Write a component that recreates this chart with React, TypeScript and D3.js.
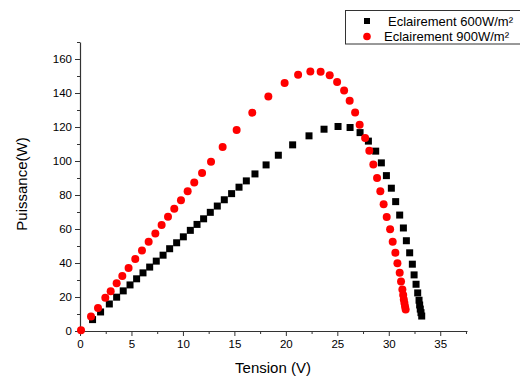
import React, { useRef, useEffect } from 'react';
import * as d3 from 'd3';

// Eclairement 600 W/m² (tension V, puissance W)
const v600 = [1.22, 2.0, 2.85, 3.56, 4.2, 4.86, 5.5, 6.12, 6.77, 7.41, 8.07, 8.71, 9.39, 10.04, 10.72, 11.37, 12.01, 12.66, 13.34, 14.02, 14.73, 15.45, 16.16, 17.0, 18.08, 19.27, 20.66, 22.25, 23.71, 25.07, 26.24, 27.21, 28.02, 28.73, 29.28, 29.77, 30.25, 30.67, 31.06, 31.42, 31.71, 32.03, 32.29, 32.46, 32.65, 32.81, 32.94, 33.0, 33.06, 33.13, 33.2];
const p600 = [6.7, 11.2, 15.9, 19.9, 23.6, 27.1, 30.7, 34.2, 37.6, 41.1, 44.6, 48.4, 51.9, 55.4, 59.2, 62.7, 66.0, 69.8, 73.5, 77.2, 80.8, 84.6, 88.3, 92.4, 97.7, 103.4, 109.5, 114.8, 118.7, 120.3, 119.7, 116.7, 111.7, 105.8, 98.9, 91.4, 84.0, 76.1, 68.2, 60.6, 53.1, 46.0, 39.3, 33.0, 27.5, 22.4, 18.1, 15.3, 12.9, 10.8, 8.8];

// Eclairement 900 W/m²
const v900 = [0.1, 1.07, 1.75, 2.46, 2.98, 3.56, 4.11, 4.72, 5.37, 6.02, 6.67, 7.32, 7.93, 8.55, 9.16, 9.81, 10.46, 11.1, 11.86, 12.73, 13.86, 15.22, 16.74, 18.3, 19.88, 21.19, 22.38, 23.38, 24.26, 24.98, 25.66, 26.2, 26.73, 27.17, 27.7, 28.11, 28.5, 28.86, 29.18, 29.5, 29.8, 30.13, 30.38, 30.64, 30.84, 31.06, 31.19, 31.32, 31.4, 31.46, 31.52, 31.58, 31.64];
const p900 = [0.4, 8.5, 13.6, 19.5, 23.4, 28.1, 32.4, 37.1, 42.3, 47.4, 52.5, 57.4, 62.3, 67.2, 71.9, 76.9, 82.2, 87.3, 93.0, 99.6, 108.3, 118.2, 128.4, 138.0, 145.9, 150.8, 152.7, 152.5, 150.4, 146.5, 141.5, 135.4, 128.5, 121.3, 113.6, 106.0, 97.9, 90.0, 82.2, 74.5, 67.0, 59.8, 52.5, 46.0, 39.9, 34.2, 29.1, 24.4, 21.2, 18.6, 16.4, 14.4, 12.6];

const xTicks = [0, 5, 10, 15, 20, 25, 30, 35];
const yTicks = [0, 20, 40, 60, 80, 100, 120, 140, 160];

export default function App() {
  const svgRef = useRef<SVGSVGElement>(null);

  useEffect(() => {
    const width = 520;
    const height = 381;
    const left = 80;
    const right = 467;
    const top = 42;
    const bottom = 331;

    const x = d3.scaleLinear().domain([0, 37.6]).range([left, right]);
    const y = d3.scaleLinear().domain([0, 170]).range([bottom, top]);

    const svg = d3.select(svgRef.current);
    svg.selectAll('*').remove();
    svg.attr('width', width).attr('height', height)
      .style('font-family', 'Liberation Sans, Arial, sans-serif');

    // minor ticks
    svg.append('g')
      .attr('transform', `translate(0,${bottom})`)
      .call(d3.axisBottom(x).tickValues(d3.range(2.5, 37.6, 5)).tickSize(3).tickFormat(() => ''))
      .call(g => g.select('.domain').remove())
      .call(g => g.selectAll('line').attr('stroke', '#333'));
    svg.append('g')
      .attr('transform', `translate(${left},0)`)
      .call(d3.axisLeft(y).tickValues(d3.range(10, 171, 20)).tickSize(3).tickFormat(() => ''))
      .call(g => g.select('.domain').remove())
      .call(g => g.selectAll('line').attr('stroke', '#333'));

    // x axis
    svg.append('g')
      .attr('transform', `translate(0,${bottom})`)
      .call(d3.axisBottom(x).tickValues(xTicks).tickSize(5).tickSizeOuter(0).tickPadding(4))
      .call(g => g.select('.domain').attr('stroke', '#333').attr('stroke-width', 1.2))
      .call(g => g.selectAll('line').attr('stroke', '#333'))
      .call(g => g.selectAll('text').attr('font-size', 11.5).attr('fill', '#000'));

    // y axis
    svg.append('g')
      .attr('transform', `translate(${left},0)`)
      .call(d3.axisLeft(y).tickValues(yTicks).tickSize(5).tickSizeOuter(0).tickPadding(3))
      .call(g => g.select('.domain').attr('stroke', '#333').attr('stroke-width', 1.2))
      .call(g => g.selectAll('line').attr('stroke', '#333'))
      .call(g => g.selectAll('text').attr('font-size', 11.5).attr('fill', '#000'));

    // axis titles
    svg.append('text')
      .attr('x', 273).attr('y', 373)
      .attr('text-anchor', 'middle').attr('font-size', 15)
      .text('Tension (V)');
    svg.append('text')
      .attr('transform', 'translate(27,184) rotate(-90)')
      .attr('text-anchor', 'middle').attr('font-size', 15)
      .text('Puissance(W)');

    // series 600
    svg.append('g').attr('fill', '#000')
      .selectAll('rect')
      .data(v600.map((v, i) => [v, p600[i]]))
      .join('rect')
      .attr('x', d => x(d[0]) - 3.5)
      .attr('y', d => y(d[1]) - 3.5)
      .attr('width', 7).attr('height', 7);

    // series 900
    svg.append('g').attr('fill', '#ff0000')
      .selectAll('circle')
      .data(v900.map((v, i) => [v, p900[i]]))
      .join('circle')
      .attr('cx', d => x(d[0]))
      .attr('cy', d => y(d[1]))
      .attr('r', 4);

    // legend
    const lg = svg.append('g');
    lg.append('rect')
      .attr('x', 345.5).attr('y', 10.5).attr('width', 180).attr('height', 33.5)
      .attr('fill', '#fff').attr('stroke', '#333').attr('stroke-width', 1);
    lg.append('rect').attr('x', 364).attr('y', 18).attr('width', 6).attr('height', 6).attr('fill', '#000');
    lg.append('circle').attr('cx', 367).attr('cy', 36.5).attr('r', 3.8).attr('fill', '#ff0000');
    lg.append('text').attr('x', 388).attr('y', 25.5).attr('font-size', 13).text('Eclairement 600W/m²');
    lg.append('text').attr('x', 384).attr('y', 41).attr('font-size', 13).text('Eclairement 900W/m²');
  }, []);

  return (
    <div style={{ position: 'absolute', left: 0, top: 0 }}>
      <svg ref={svgRef}></svg>
    </div>
  );
}
